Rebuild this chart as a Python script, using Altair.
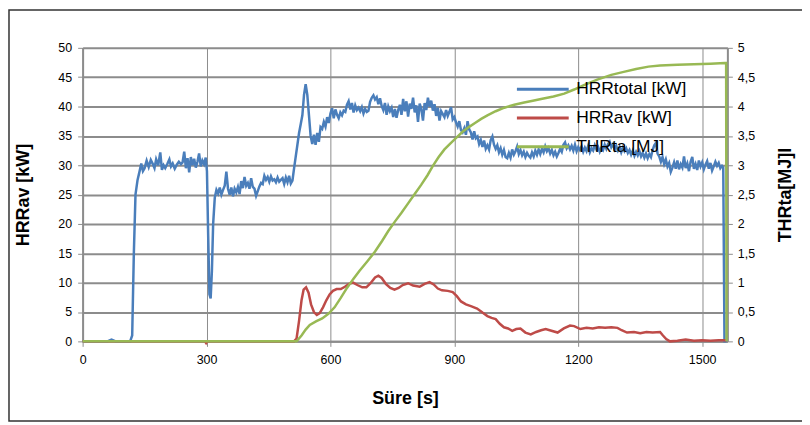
import altair as alt
import pandas as pd

# ---------------- data ----------------
hrr_total_t = [0, 60, 70, 80, 115, 120, 124, 128, 133, 138, 142, 146, 150, 155, 160, 165, 170, 174, 178, 183,
               188, 192, 196, 200, 205, 210, 214, 218, 223, 228, 233, 238, 242, 246, 250, 254, 258, 262, 266, 270,
               274, 278, 282, 286, 290, 294, 298, 301, 304, 307, 310, 313, 316, 320, 324, 328, 332, 336, 340, 344,
               348, 352, 356, 360, 364, 368, 372, 376, 380, 384, 388, 392, 396, 400, 404, 408, 412, 416, 420, 424,
               428, 432, 436, 440, 444, 448, 452, 456, 460, 464, 468, 472, 476, 480, 484, 488, 492, 496, 500, 504,
               508, 512, 516, 520, 524, 528, 532, 536, 540, 544, 548, 552, 556, 560, 564, 568, 572, 576, 580, 584,
               588, 592, 596, 600, 604, 608, 612, 616, 620, 624, 628, 632, 636, 640, 644, 648, 652, 656, 660, 664,
               668, 672, 676, 680, 684, 688, 692, 696, 700, 704, 708, 712, 716, 720, 724, 728, 732, 736, 740, 744,
               748, 752, 756, 760, 764, 768, 772, 776, 780, 784, 788, 792, 796, 800, 804, 808, 812, 816, 820, 824,
               828, 832, 836, 840, 844, 848, 852, 856, 860, 864, 868, 872, 876, 880, 884, 888, 892, 896, 900, 904,
               908, 912, 916, 920, 924, 928, 932, 936, 940, 944, 948, 952, 956, 960, 964, 968, 972, 976, 980, 984,
               988, 992, 996, 1000, 1004, 1008, 1012, 1016, 1020, 1024, 1028, 1032, 1036, 1040, 1044, 1048, 1052,
               1056, 1060, 1064, 1068, 1072, 1076, 1080, 1084, 1088, 1092, 1096, 1100, 1104, 1108, 1112, 1116, 1120,
               1124, 1128, 1132, 1136, 1140, 1144, 1148, 1152, 1156, 1160, 1164, 1168, 1172, 1176, 1180, 1184, 1188,
               1192, 1196, 1200, 1204, 1208, 1212, 1216, 1220, 1224, 1228, 1232, 1236, 1240, 1244, 1248, 1252, 1256,
               1260, 1264, 1268, 1272, 1276, 1280, 1284, 1288, 1292, 1296, 1300, 1304, 1308, 1312, 1316, 1320, 1324,
               1328, 1332, 1336, 1340, 1344, 1348, 1352, 1356, 1360, 1364, 1368, 1372, 1376, 1380, 1384, 1388, 1392,
               1396, 1400, 1404, 1408, 1412, 1416, 1420, 1424, 1428, 1432, 1436, 1440, 1444, 1448, 1452, 1456, 1460,
               1464, 1468, 1472, 1476, 1480, 1484, 1488, 1492, 1496, 1500, 1504, 1508, 1512, 1516, 1520, 1524, 1528,
               1532, 1536, 1540, 1544, 1548, 1551, 1554, 1559]
hrr_total_v = [0, 0, 0.3, 0, 0, 1, 15, 25, 27.5, 29, 30.3, 29, 29.5, 30.8, 29.7, 30.9, 30.2, 29.5, 31, 30,
               32.2, 29.2, 30, 29.5, 30.2, 31, 29.8, 30.3, 29.4, 30.1, 30.6, 30.2, 30.5, 32.3, 29.5, 31.2, 28.8, 31.4, 30, 31.1,
               29.6, 30.6, 32, 29.8, 30.8, 30.2, 31.3, 29, 18, 8, 7.3, 12, 20, 24.5, 25.8, 25.2, 26.2, 25, 25.8, 26.5,
               28.9, 26, 25, 26.2, 24.7, 26, 25.4, 26.3, 25.1, 27.3, 26.1, 28, 26.5, 27, 26, 27.8, 26.3, 26, 24.8, 25.6,
               26.4, 27, 26.8, 28.2, 27.5, 28, 27.2, 28.1, 27.4, 27.6, 27.1, 27.9, 27.2, 27.5, 27.8, 26.8, 27.9, 27.1, 28.2, 26.9,
               27.4, 29.5, 31.5, 33.5, 35.5, 37, 38.5, 42, 43.8, 42, 38.5, 35, 33.6, 35.2, 33.5, 35.5, 34, 36.5, 36.2, 37.4,
               36.6, 38.2, 37.2, 38.8, 39.7, 38, 39.5, 38.6, 38, 39, 38.5, 39.3, 39.1, 40.3, 40.9, 39.5, 40.6, 39, 40.2, 39.4,
               39.8, 39.2, 39.9, 38.8, 39.6, 39.1, 39.3, 40.8, 41.5, 41.9, 41.2, 41.6, 40.4, 41.4, 40.1, 39.4, 40.6, 38.6, 40, 39.2,
               39.8, 38.2, 39.6, 38.1, 39.4, 40.3, 38.6, 41.3, 39.2, 40.9, 38.3, 40.5, 39.6, 41.5, 39, 40.2, 37.4, 40.5, 39.6, 37.6,
               40.6, 39.4, 41.5, 40, 41, 39.3, 40.4, 38.4, 39.8, 37.6, 39.2, 38.7, 38.2, 39.4, 38.4, 39.1, 39.9, 37.8, 38.2, 37.3,
               36.6, 37.5, 36, 35.6, 36.3, 35.2, 37.5, 36.1, 35.6, 34.4, 35.8, 34.6, 34.9, 33.6, 34.3, 33.1, 34.2, 32.8, 33.4, 32.7,
               34.3, 34.9, 33.5, 32.8, 33.4, 32.2, 32.9, 31.8, 32.6, 31.4, 31.2, 32.1, 31.3, 32.7, 31.8, 32.4, 33.2,
               31.9, 32.6, 31.7, 32.3, 31.4, 32.1, 31.6, 31.3, 32.2, 31.5, 32.5, 31.8, 32.7, 31.9, 32.8, 32.2, 33.2,
               32.4, 32.9, 32, 32.6, 31.7, 32.3, 31.5, 32.1, 32.8, 32.3, 33.5, 33.9, 32.9, 33.4, 32.7, 33.3, 32.5,
               33.5, 32.4, 33.1, 32.6, 33.2, 32.3, 33, 32.4, 33.3, 32.2, 32.9, 32.5, 33.4, 32.7, 33.1, 32.3, 33,
               32.6, 33.5, 32.8, 33.6, 34, 33.1, 33.6, 32.7, 33.3, 32.5, 33.1, 32.2, 33, 32.4, 32.9, 32.1, 32.6,
               31.8, 32.5, 31.6, 32.3, 31.7, 32.4, 31.5, 32.1, 31.3, 32, 31.2, 31.9, 31.4, 32.6, 33.4, 33.8, 32,
               31.5, 30.6, 31.4, 30.2, 31, 29.8, 30.4, 28.9, 29.6, 30.5, 29.4, 30.8, 29.3, 30.2, 29.6, 31.5, 29.5,
               30.3, 29, 30.6, 31.4, 29.4, 30.2, 29.2, 30.8, 29.8, 30.5, 29.3, 30.1, 30.7, 29.4, 30.4, 29.1, 29.8,
               30.6, 29.9, 30.4, 29.5, 29.9, 29.6, 0, 0]

hrr_av_t = [0, 296, 299, 302, 512, 518, 524, 530, 535, 541, 547, 553, 560, 567, 574, 582, 590, 598, 606, 615,
            625, 635, 645, 655, 665, 677, 687, 697, 708, 716, 724, 734, 745, 755, 765, 775, 788, 800, 816, 828,
            840, 850, 860, 870, 884, 896, 906, 916, 928, 940, 955, 968, 980, 990, 1000, 1010, 1020, 1030, 1040,
            1050, 1060, 1072, 1085, 1098, 1110, 1121, 1135, 1150, 1165, 1180, 1190, 1205, 1220, 1235, 1250, 1265,
            1280, 1295, 1305, 1318, 1335, 1350, 1365, 1380, 1398, 1405, 1413, 1422, 1440, 1460, 1480, 1500, 1520,
            1540, 1556, 1558]
hrr_av_v = [0, 0, -0.3, 0, 0, 0.5, 3.5, 7, 8.8, 9.2, 8.3, 6.3, 5, 4.5, 4.8, 5.8, 7, 8, 8.6, 8.9,
            8.9, 9.3, 9.8, 10, 9.6, 9.2, 9.2, 9.9, 10.9, 11.2, 10.8, 9.8, 9.1, 8.8, 9.1, 9.6, 9.9, 9.5, 9.3, 9.8,
            10.1, 9.7, 9.0, 8.7, 8.6, 8.4, 7.7, 6.8, 6.3, 6.0, 5.6, 4.9, 4.3, 4.0, 3.8, 3.0, 2.4, 2.2, 1.8,
            2.1, 2.2, 1.5, 1.2, 1.6, 1.9, 2.1, 1.8, 1.5, 2.2, 2.7, 2.6, 2.1, 2.3, 2.2, 2.4, 2.3,
            2.4, 2.3, 1.9, 1.5, 1.6, 1.4, 1.6, 1.5, 1.6, 1.0, 0.4, 0, 0.1, 0.3, 0.1, 0.2, 0.1,
            0.2, 0.2, 0]

thr_t = [0, 518, 530, 540, 550, 565, 580, 595, 610, 625, 640, 655, 670, 690, 708, 725, 740, 756, 772, 788,
         804, 820, 835, 848, 862, 876, 890, 905, 920, 935, 950, 965, 980, 1000, 1021, 1045, 1069, 1090, 1110,
         1140, 1166, 1190, 1215, 1246, 1280, 1310, 1340, 1370, 1398, 1440, 1480, 1520, 1555, 1558, 1559]
thr_v = [0, 0, 0.1, 0.2, 0.28, 0.34, 0.39, 0.47, 0.58, 0.74, 0.91, 1.06, 1.2, 1.37, 1.53, 1.71, 1.88, 2.04, 2.19, 2.35,
         2.51, 2.67, 2.83, 2.99, 3.14, 3.27, 3.37, 3.47, 3.57, 3.65, 3.72, 3.79, 3.85, 3.92, 3.98, 4.03, 4.07, 4.1, 4.13,
         4.17, 4.22, 4.29, 4.37, 4.46, 4.54, 4.59, 4.64, 4.68, 4.7, 4.71, 4.72, 4.73, 4.74, 4.74, 0]

series_names = ["HRRtotal [kW]", "HRRav [kW]", "THRta [MJ]"]
series_colors = ["#4a7ebb", "#be4b48", "#98b954"]
x_ticks = [0, 300, 600, 900, 1200, 1500]
left_ticks = [0, 5, 10, 15, 20, 25, 30, 35, 40, 45, 50]
right_ticks = [0, 0.5, 1, 1.5, 2, 2.5, 3, 3.5, 4, 4.5, 5]

df_left = pd.concat([
    pd.DataFrame({"t": hrr_total_t, "v": hrr_total_v, "series": series_names[0]}),
    pd.DataFrame({"t": hrr_av_t, "v": hrr_av_v, "series": series_names[1]}),
])
df_right = pd.DataFrame({"t": thr_t, "v": thr_v, "series": series_names[2]})

FONT = "Liberation Sans"
GRID = "#8c8c8c"

color_scale = alt.Scale(domain=series_names, range=series_colors)
legend = alt.Legend(orient="none", legendX=442, legendY=21, title=None,
                    symbolType="M-1.37,0H1.37", symbolSize=1444, symbolStrokeWidth=3,
                    labelFontSize=17.5, labelFont=FONT, labelColor="black",
                    labelOffset=13, rowPadding=0, padding=0)

x_enc = alt.X("t:Q", scale=alt.Scale(domain=[0, 1561], nice=False),
              axis=alt.Axis(values=x_ticks, format="d", title="Süre [s]", titleFont=FONT, titleFontSize=18,
                            titleFontWeight="bold", titleColor="black", titlePadding=24,
                            labelFont=FONT, labelFontSize=12.5, labelColor="black", labelPadding=7,
                            labelFlush=False,
                            grid=True, gridColor=GRID, gridWidth=1,
                            domainColor=GRID, domainWidth=2, tickColor=GRID, tickSize=5))

left = alt.Chart(df_left).mark_line(strokeWidth=2.5).encode(
    x=x_enc,
    y=alt.Y("v:Q", scale=alt.Scale(domain=[0, 50], nice=False),
            axis=alt.Axis(values=left_ticks, title="HRRav [kW]", titleFont=FONT, titleFontSize=18,
                          titleFontWeight="bold", titleColor="black", titlePadding=25,
                          labelFont=FONT, labelFontSize=12.5, labelColor="black", labelPadding=6,
                          grid=True, gridColor=GRID, gridWidth=2,
                          domainColor=GRID, domainWidth=2, tickColor=GRID, tickSize=5)),
    color=alt.Color("series:N", scale=color_scale, legend=legend),
)

right = alt.Chart(df_right).mark_line(strokeWidth=2.5).encode(
    x=alt.X("t:Q"),
    y=alt.Y("v:Q", scale=alt.Scale(domain=[0, 5], nice=False),
            axis=alt.Axis(orient="right", values=right_ticks, title="THRta[MJ]l",
                          labelExpr="replace(toString(datum.value), '.', ',')",
                          titleFont=FONT, titleFontSize=18, titleFontWeight="bold", titleColor="black",
                          titleAngle=270, titlePadding=40,
                          labelFont=FONT, labelFontSize=12.5, labelColor="black", labelPadding=5,
                          grid=False, domainColor=GRID, domainWidth=2, tickColor=GRID, tickSize=5)),
    color=alt.Color("series:N", scale=color_scale, legend=legend),
)

frame = alt.Chart(pd.DataFrame({"k": [0]})).mark_rect(
    fill="transparent", stroke="#333333", strokeWidth=1.5
).encode(x=alt.value(-74), x2=alt.value(740), y=alt.value(-38), y2=alt.value(375))

chart = alt.layer(frame, left, right).resolve_scale(y="independent").properties(
    width=648, height=295,
    autosize=alt.AutoSizeParams(type="none"),
    padding={"left": 75, "top": 39, "right": 75, "bottom": 80},
).configure_view(stroke=None).configure(background="white")

chart.save("out.html", embed_options={"renderer": "svg", "actions": False})
